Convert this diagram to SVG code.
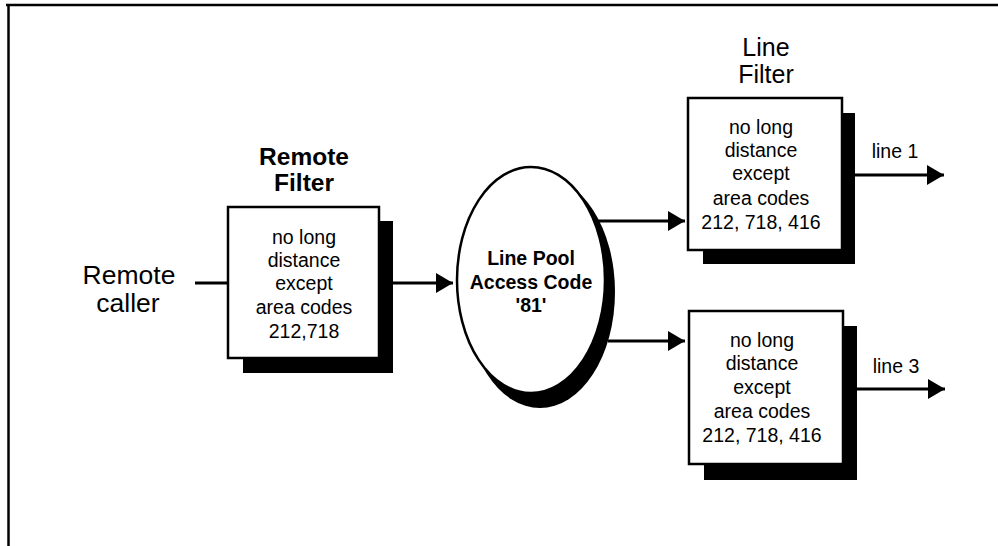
<svg xmlns="http://www.w3.org/2000/svg" width="998" height="546" viewBox="0 0 998 546">
<style>
.t{font-family:"Liberation Sans",Arial,sans-serif;fill:#000;text-anchor:middle}
.box{fill:#fff;stroke:#000;stroke-width:2.5}
.sh{fill:#000}
.body{font-size:19.5px}
.title{font-size:26.5px}
.lf{font-size:25px}
.btitle{font-size:24.5px;font-weight:bold}
.conn{stroke:#000;stroke-width:3;fill:none}
</style>
<defs>
<marker id="ah" markerUnits="userSpaceOnUse" markerWidth="18" markerHeight="20" refX="17" refY="10" orient="auto">
<path d="M0,0 L17,10 L0,20 Z" fill="#000"/>
</marker>
</defs>
<rect width="998" height="546" fill="#fff"/>
<g id="frame">
<line x1="6" y1="5" x2="998" y2="5" stroke="#000" stroke-width="2.5"/>
<line x1="8.5" y1="5" x2="8.5" y2="546" stroke="#000" stroke-width="2.5"/>
</g>
<g id="connectors">
<line class="conn" x1="195" y1="283" x2="228" y2="283"/>
<line class="conn" x1="393" y1="283" x2="453" y2="283" marker-end="url(#ah)"/>
<line class="conn" x1="593" y1="221" x2="685" y2="221" marker-end="url(#ah)"/>
<line class="conn" x1="608" y1="341" x2="685" y2="341" marker-end="url(#ah)"/>
<line class="conn" x1="855" y1="175" x2="944" y2="175" marker-end="url(#ah)"/>
<line class="conn" x1="857" y1="389" x2="945" y2="389" marker-end="url(#ah)"/>
</g>
<g id="remote-caller">
<text class="t title" x="129" y="284">Remote</text>
<text class="t title" x="128" y="312">caller</text>
</g>
<g id="remote-filter">
<text class="t btitle" x="304" y="165">Remote</text>
<text class="t btitle" x="304" y="191">Filter</text>
<rect class="sh" x="243" y="221" width="150" height="152"/>
<rect class="box" x="228" y="207" width="151" height="151"/>
<text class="t body" x="304" y="244">no long</text>
<text class="t body" x="304" y="267">distance</text>
<text class="t body" x="304" y="290">except</text>
<text class="t body" x="304" y="314">area codes</text>
<text class="t body" x="304" y="338">212,718</text>
</g>
<g id="line-pool">
<ellipse class="sh" cx="540" cy="292" rx="75" ry="116"/>
<ellipse cx="531" cy="280" rx="74" ry="113" fill="#fff" stroke="#000" stroke-width="2.5"/>
<text class="t body" style="font-weight:bold" x="531" y="265">Line Pool</text>
<text class="t body" style="font-weight:bold" x="531" y="289">Access Code</text>
<text class="t body" style="font-weight:bold" x="531" y="312">'81'</text>
</g>
<g id="line-filter-1">
<text class="t lf" x="766" y="56">Line</text>
<text class="t lf" x="766" y="83">Filter</text>
<rect class="sh" x="703" y="113" width="152" height="151"/>
<rect class="box" x="688" y="98" width="154" height="152"/>
<text class="t body" x="761" y="134">no long</text>
<text class="t body" x="761" y="157">distance</text>
<text class="t body" x="761" y="180">except</text>
<text class="t body" x="761" y="205">area codes</text>
<text class="t body" x="761" y="229">212, 718, 416</text>
<text class="t body" x="895" y="158">line 1</text>
</g>
<g id="line-filter-3">
<rect class="sh" x="704" y="326" width="153" height="154"/>
<rect class="box" x="689" y="311" width="154" height="153"/>
<text class="t body" x="762" y="347">no long</text>
<text class="t body" x="762" y="370">distance</text>
<text class="t body" x="762" y="394">except</text>
<text class="t body" x="762" y="418">area codes</text>
<text class="t body" x="762" y="442">212, 718, 416</text>
<text class="t body" x="896" y="373">line 3</text>
</g>
</svg>
